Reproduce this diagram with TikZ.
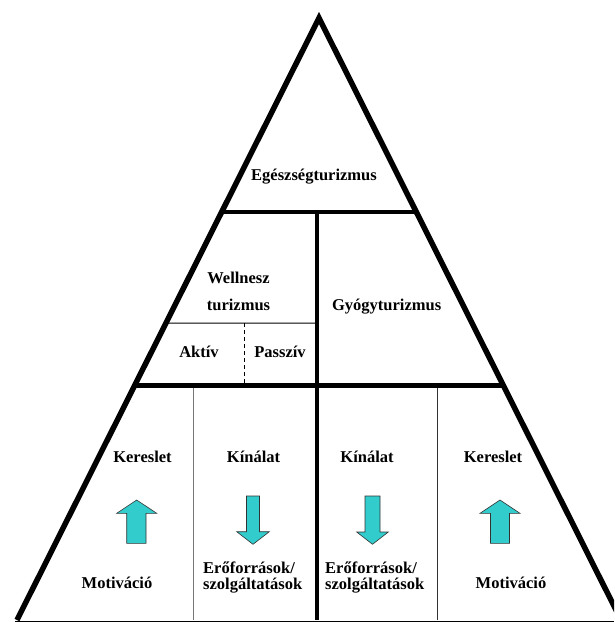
\documentclass[tikz,border=0pt]{standalone}
\usepackage{fontspec}
\setmainfont{Liberation Serif}
\usetikzlibrary{calc}
\definecolor{arrfill}{HTML}{33CCCC}
\definecolor{arrline}{HTML}{333333}
\definecolor{thingray}{HTML}{777777}
\begin{document}
\begin{tikzpicture}[x=1pt,y=-1pt,
  heavy/.style={line width=4.6pt},
  heavyside/.style={line width=5.5pt, line join=miter},
  thinline/.style={line width=1pt},
  dashline/.style={line width=0.8pt, dash pattern=on 4pt off 3pt},
  arr/.style={fill=arrfill, draw=arrline, line width=0.6pt, line join=miter},
  lbl/.style={font=\bfseries\fontsize{16.5}{17}\selectfont, inner sep=0pt, anchor=base},
  lblw/.style={lbl, anchor=base west}]
\useasboundingbox (0,0) rectangle (614,622);
\fill[white] (0,0) rectangle (614,622);
\clip (0,0) rectangle (614,622);

% triangle corners
\coordinate (A) at (319,18);
\coordinate (L) at (17,620);
\coordinate (R) at (621,620);
% points on the sides
\coordinate (t1l) at ($(A)!0.32226!(L)$);
\coordinate (t1r) at ($(A)!0.32226!(R)$);
\coordinate (t2l) at ($(A)!0.60963!(L)$);
\coordinate (t2r) at ($(A)!0.60963!(R)$);
\coordinate (twl) at ($(A)!0.50664!(L)$);
\coordinate (twr) at (318,323);
\coordinate (vt) at (317,212);
\coordinate (vb) at (317,620);
\coordinate (dt) at (244,323);
\coordinate (db) at (244,388);
\coordinate (g1t) at (193,385);
\coordinate (g1b) at (193,620);
\coordinate (g2t) at (437,385);
\coordinate (g2b) at (437,620);
\coordinate (bl) at (15,621);
\coordinate (br) at (614,621);

% thin lines
\draw[thinline] (bl) -- (br);
\draw[thinline] (twl) -- (twr);
\draw[dashline] (dt) -- (db);
\draw[thinline, draw=thingray] (g1t) -- (g1b);
\draw[thinline, draw=black!80] (g2t) -- (g2b);

% thick lines
\draw[heavy, line width=4.2pt] (t1l) -- (t1r);
\draw[heavy, line width=5pt] (t2l) -- (t2r);
\draw[heavy, line width=4.2pt] (vt) -- (vb);
\draw[heavyside] (L) -- (A) -- (R);

% arrows
\draw[arr] (136.7,500) -- (156.7,513.3) -- (146,513.3) -- (146,543.3) -- (126.7,543.3) -- (126.7,513.3) -- (116.7,513.3) -- cycle;
\draw[arr] (500,500) -- (520,513.3) -- (509.5,513.3) -- (509.5,543.3) -- (490.5,543.3) -- (490.5,513.3) -- (480,513.3) -- cycle;
\draw[arr] (253,544.3) -- (269.3,531.7) -- (259.5,531.7) -- (259.5,496) -- (246.5,496) -- (246.5,531.7) -- (236.7,531.7) -- cycle;
\draw[arr] (372.5,544.3) -- (388.3,532) -- (380,532) -- (380,496) -- (365,496) -- (365,532) -- (356.7,532) -- cycle;

% labels
\node[lbl] (egesz) at (314,180) {Egészségturizmus};
\node[lbl] (well1) at (238.5,283) {Wellnesz};
\node[lbl] (well2) at (238.5,310) {turizmus};
\node[lbl] (gyogy) at (386.7,310) {Gyógyturizmus};
\node[lbl] (aktiv) at (199,357) {Aktív};
\node[lbl] (passz) at (280,357) {Passzív};
\node[lbl] (ker1) at (142.5,462) {Kereslet};
\node[lbl] (kin1) at (253.5,462) {Kínálat};
\node[lbl] (kin2) at (367,462) {Kínálat};
\node[lbl] (ker2) at (493,462) {Kereslet};
\node[lbl] (mot1) at (117,588) {Motiváció};
\node[lbl] (mot2) at (511,588) {Motiváció};
\node[lblw] (ero1) at (203,573) {Erőforrások/};
\node[lblw] (szo1) at (203,589) {szolgáltatások};
\node[lblw] (ero2) at (325,573) {Erőforrások/};
\node[lblw] (szo2) at (325,589) {szolgáltatások};
\end{tikzpicture}
\end{document}
